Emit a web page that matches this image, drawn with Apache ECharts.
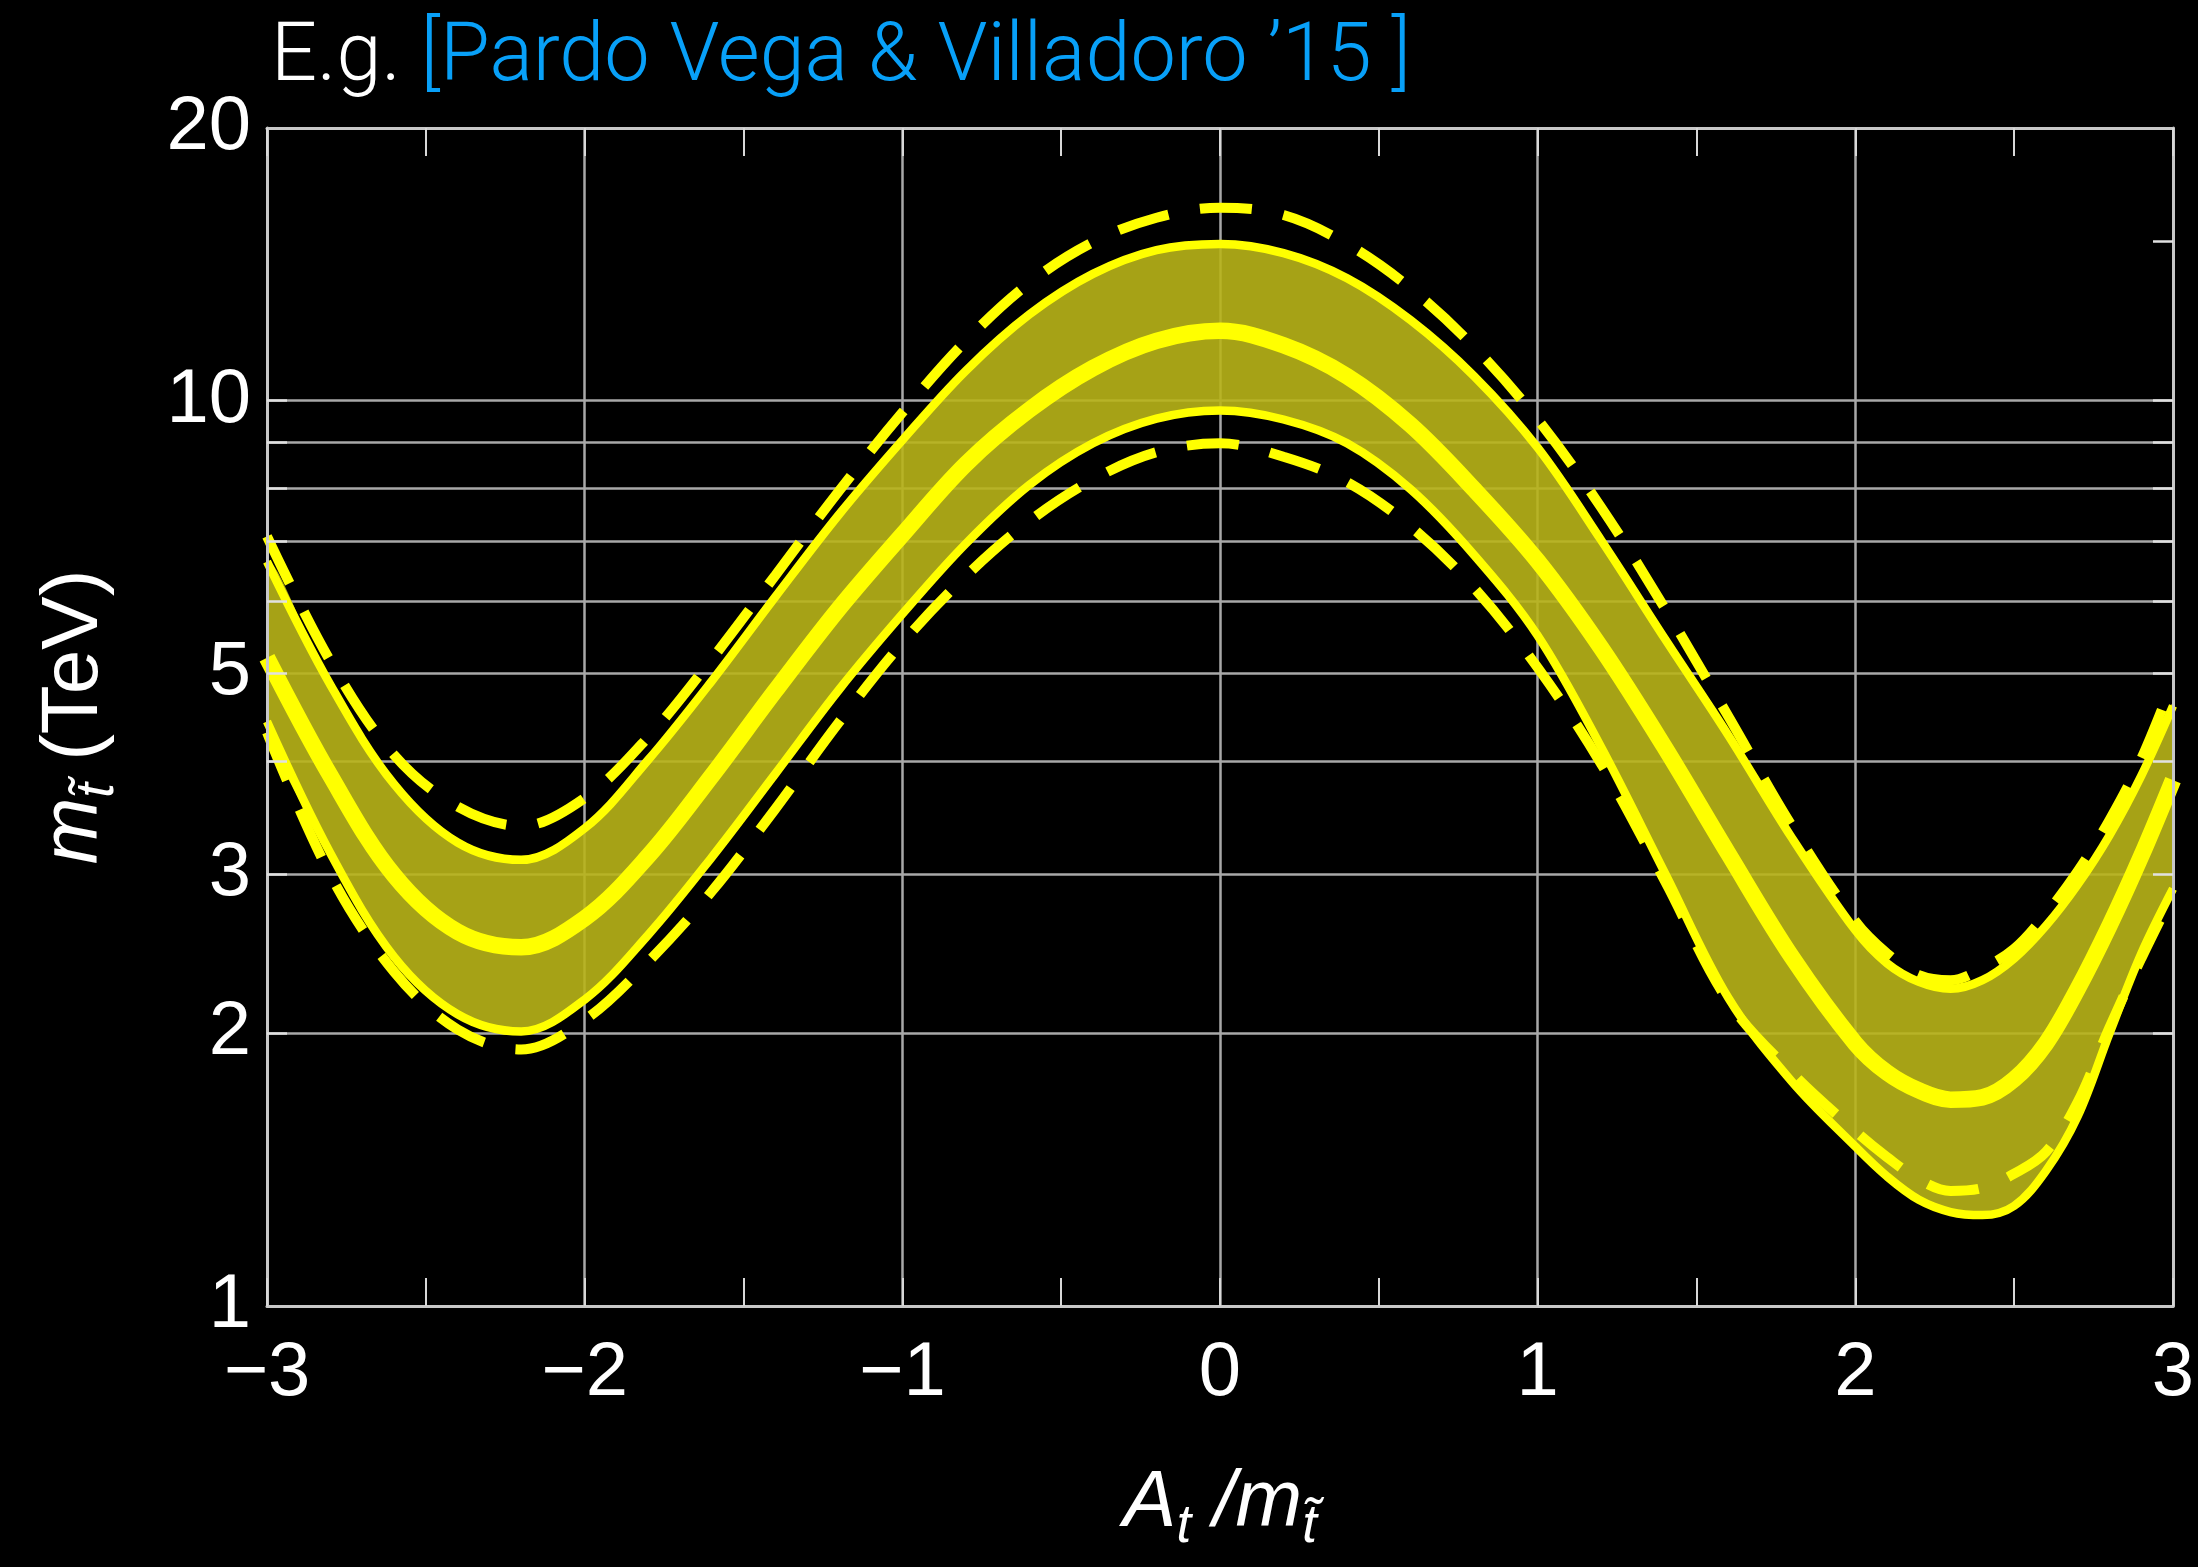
<!DOCTYPE html>
<html><head><meta charset="utf-8">
<script src="https://cdn.jsdelivr.net/npm/echarts@6/dist/echarts.min.js"></script>
<style>html,body{margin:0;padding:0;background:#000;}#c{width:2198px;height:1567px;}</style>
</head><body><div id="c"></div>
<script>
// A_t / m_stop values (x) at which the curves were read
const xs = [-3.0,-2.8,-2.6,-2.4,-2.2,-2.0,-1.8,-1.6,-1.4,-1.2,-1.0,-0.8,-0.6,-0.4,-0.2,0,0.2,0.4,0.6,0.8,1.0,1.2,1.4,1.6,1.8,2.0,2.1,2.2,2.3,2.4,2.5,2.6,2.7,2.8,2.9,3.0];
// stop mass (TeV)
const upperDashed = [7.08,5.15,4.06,3.56,3.39,3.64,4.25,5.18,6.41,7.94,9.70,11.64,13.49,14.96,15.92,16.33,16.03,14.89,13.30,11.46,9.53,7.62,5.90,4.48,3.39,2.66,2.45,2.32,2.29,2.36,2.48,2.71,3.02,3.44,4.02,4.90];
const upperSolid = [6.64,4.85,3.77,3.25,3.11,3.37,4.01,4.90,6.07,7.48,9.04,10.79,12.45,13.80,14.66,14.89,14.55,13.65,12.27,10.64,8.87,7.01,5.46,4.27,3.29,2.60,2.39,2.28,2.24,2.29,2.42,2.63,2.92,3.31,3.85,4.60];
const central = [5.20,3.85,2.99,2.59,2.49,2.68,3.14,3.85,4.78,5.89,7.11,8.51,9.77,10.86,11.64,11.94,11.51,10.64,9.40,7.98,6.65,5.33,4.14,3.16,2.43,1.95,1.81,1.73,1.69,1.70,1.78,1.95,2.24,2.63,3.14,3.81];
const lowerSolid = [4.42,3.16,2.43,2.10,2.01,2.18,2.57,3.13,3.87,4.79,5.81,6.95,8.07,8.97,9.55,9.75,9.53,8.97,7.98,6.75,5.50,4.14,3.01,2.19,1.77,1.50,1.39,1.31,1.27,1.26,1.29,1.41,1.62,2.00,2.45,2.89];
const lowerDashed = [4.30,2.99,2.34,2.02,1.92,2.07,2.40,2.87,3.54,4.41,5.40,6.40,7.36,8.18,8.77,8.97,8.67,8.13,7.26,6.21,5.07,3.97,2.95,2.17,1.81,1.56,1.46,1.38,1.34,1.35,1.40,1.48,1.68,2.03,2.42,2.85];

// axis ticks / labels
const xTickLabels = [-3,-2,-1,0,1,2,3];
const yTickLabels = [1,2,3,5,10,20];
const yGridValues = [2,3,4,5,6,7,8,9,10];
const xGridValues = [-2,-1,0,1,2];
const yRightTicks = [2,3,4,5,6,7,8,9,10,15];

const pairs = arr => xs.map((x, i) => [x, arr[i]]);

const YEL = '#ffff00';
const FRAME = '#c8c8c8';
const GRID = '#a8a8a8';
const FONT = 'Liberation Sans';
const SMOOTH = 0.35;

const nameRich = {
  i: {fontFamily: FONT, fontStyle: 'italic', fontSize: 80, color: '#fff'},
  s: {fontFamily: FONT, fontStyle: 'italic', fontSize: 53, color: '#fff', padding: [47, 0, 0, 0]},
  r: {fontFamily: FONT, fontSize: 80, color: '#fff'}
};

function renderBand(params, api) {
  const up = xs.map((x, i) => api.coord([x, upperSolid[i]]));
  const lo = xs.map((x, i) => api.coord([x, lowerSolid[i]])).reverse();
  return {
    type: 'polygon',
    shape: {points: up.concat(lo), smooth: SMOOTH},
    style: {fill: 'rgb(184,180,24)', opacity: 0.9}
  };
}

const chart = echarts.init(document.getElementById('c'), null, {renderer: 'canvas'});
const option = {
  backgroundColor: '#000',
  animation: false,
  title: {
    text: '{w|E.g.} {b|[Pardo Vega & Villadoro \u201915 ]}',
    left: 266, top: 14,
    textStyle: {
      fontSize: 81, fontFamily: 'Roboto', fontWeight: 300, color: '#fff',
      rich: {
        w: {fontSize: 81, fontFamily: 'Roboto', fontWeight: 300, color: '#ffffff'},
        b: {fontSize: 81, fontFamily: 'Roboto', fontWeight: 300, color: '#08a0f8'}
      }
    }
  },
  grid: {left: 267, right: 25, top: 128, bottom: 261, show: false},
  xAxis: [{
    type: 'value', min: -3, max: 3, interval: 1, position: 'bottom', z: 10,
    axisLine: {show: true, onZero: false, lineStyle: {color: FRAME, width: 3}},
    axisTick: {show: true, inside: true, length: 28, lineStyle: {color: '#d8d8d8', width: 2}},
    minorTick: {show: true, splitNumber: 2, length: 28, lineStyle: {color: '#d8d8d8', width: 2}},
    splitLine: {show: false},
    axisLabel: {
      show: true, margin: 30, color: '#fff', fontSize: 76, fontFamily: FONT,
      customValues: xTickLabels,
      formatter: v => (v < 0 ? '\u2212' + Math.abs(v) : String(v))
    },
    name: '{i|A}{s|t}{i| /}{i|m}{s|t\u0303}',
    nameLocation: 'middle', nameGap: 148,
    nameTextStyle: {color: '#fff', fontSize: 80, fontFamily: FONT, rich: nameRich}
  }, {
    type: 'value', min: -3, max: 3, interval: 1, position: 'top', z: 10,
    axisLine: {show: true, onZero: false, lineStyle: {color: FRAME, width: 3}},
    axisTick: {show: true, inside: true, length: 28, lineStyle: {color: '#d8d8d8', width: 2}},
    minorTick: {show: true, splitNumber: 2, length: 28, lineStyle: {color: '#d8d8d8', width: 2}},
    splitLine: {show: false},
    axisLabel: {show: false}
  }],
  yAxis: [{
    type: 'log', logBase: 10, min: 1, max: 20, position: 'left', z: 10,
    axisLine: {show: true, onZero: false, lineStyle: {color: FRAME, width: 3}},
    axisTick: {show: true, inside: true, length: 20, customValues: yGridValues, lineStyle: {color: '#e0e0e0', width: 2.5}},
    splitLine: {show: false},
    minorTick: {show: false}, minorSplitLine: {show: false},
    axisLabel: {
      show: true, margin: 16, color: '#fff', fontSize: 76, fontFamily: FONT,
      customValues: yTickLabels,
      formatter: v => String(Math.round(v))
    },
    name: '{i|m}{s|t\u0303}{r| (TeV)}',
    nameLocation: 'middle', nameGap: 142,
    nameTextStyle: {color: '#fff', fontSize: 80, fontFamily: FONT, rich: nameRich}
  }, {
    type: 'log', logBase: 10, min: 1, max: 20, position: 'right', z: 10,
    axisLine: {show: true, onZero: false, lineStyle: {color: FRAME, width: 3}},
    axisTick: {show: true, inside: true, length: 20, customValues: yRightTicks, lineStyle: {color: '#e0e0e0', width: 2.5}},
    splitLine: {show: false},
    axisLabel: {show: false}
  }],
  series: [
    {
      name: 'band', type: 'custom', renderItem: renderBand, data: [[0, 1]],
      encode: {x: 0, y: 1}, silent: true, z: 2, clip: true
    },
    {
      name: 'lowerDashed', type: 'line', data: pairs(lowerDashed), smooth: SMOOTH, symbol: 'none', z: 3,
      lineStyle: {color: YEL, width: 10, type: [52, 32], cap: 'butt'},
      markLine: {
        silent: true, symbol: ['none', 'none'], z: 1, animation: false,
        label: {show: false}, emphasis: {disabled: true},
        lineStyle: {color: GRID, width: 2.5, type: 'solid'},
        data: [].concat(yGridValues.map(v => ({yAxis: v})), xGridValues.map(v => ({xAxis: v})))
      }
    },
    {
      name: 'upperDashed', type: 'line', data: pairs(upperDashed), smooth: SMOOTH, symbol: 'none', z: 3,
      lineStyle: {color: YEL, width: 10, type: [52, 32], cap: 'butt'}
    },
    {
      name: 'lowerSolid', type: 'line', data: pairs(lowerSolid), smooth: SMOOTH, symbol: 'none', z: 4,
      lineStyle: {color: YEL, width: 8.5}
    },
    {
      name: 'upperSolid', type: 'line', data: pairs(upperSolid), smooth: SMOOTH, symbol: 'none', z: 4,
      lineStyle: {color: YEL, width: 8.5}
    },
    {
      name: 'central', type: 'line', data: pairs(central), smooth: SMOOTH, symbol: 'none', z: 5,
      lineStyle: {color: YEL, width: 16.5}
    }
  ]
};
chart.setOption(option);
</script></body></html>
